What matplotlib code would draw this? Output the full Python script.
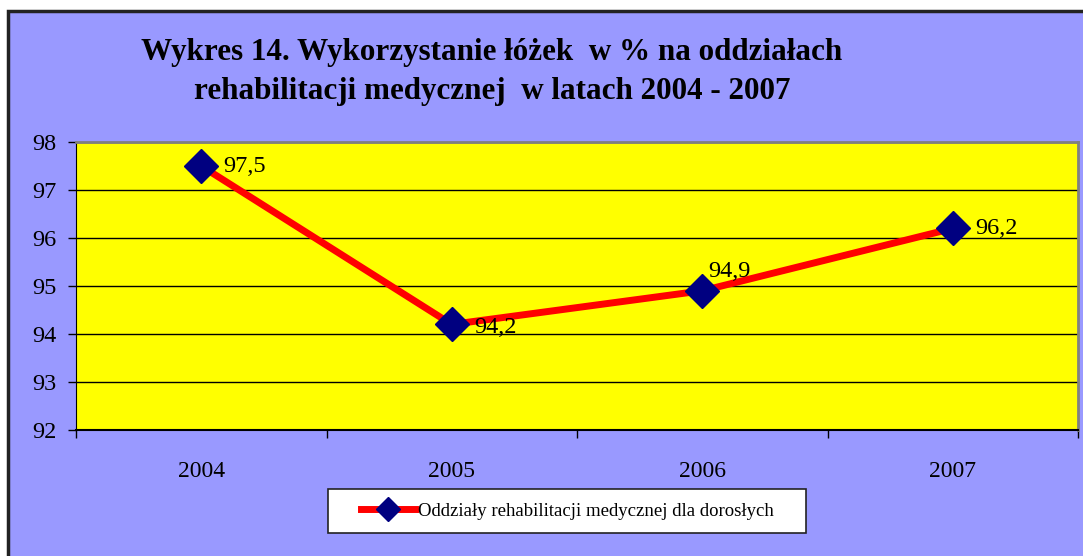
import matplotlib.pyplot as plt
from matplotlib.patches import Rectangle

# --- data ---
years = ["2004", "2005", "2006", "2007"]
usage = [97.5, 94.2, 94.9, 96.2]
labels = ["97,5", "94,2", "94,9", "96,2"]
label_offsets = [(16, 0), (16, -2), (4, 14), (16, 0)]
series_name = "Oddziały rehabilitacji medycznej dla dorosłych"
title = ("Wykres 14. Wykorzystanie łóżek  w % na oddziałach\n"
         "rehabilitacji medycznej  w latach 2004 - 2007")

plt.rcParams["font.family"] = ["Liberation Serif", "DejaVu Serif"]

W, H = 1083, 556
fig = plt.figure(figsize=(W / 100, H / 100), dpi=100)
fig.patch.set_facecolor("white")

# outer chart frame (periwinkle background)
fig.patches.append(Rectangle((7.5 / W, -0.1), 1.2, 1.1 - 10.5 / H,
                             transform=fig.transFigure, facecolor="#9999FF",
                             edgecolor="#222222", linewidth=2.5, zorder=-5))

fig.text(492 / W, 1 - 72 / H, title, ha="center", va="center",
         fontsize=22.4, fontweight="bold", linespacing=1.42)

ax = fig.add_axes([76 / W, 1 - 430 / H, 1002 / W, 288 / H])
ax.set_zorder(2)
ax.set_facecolor("#FFFF00")

x = list(range(len(years)))
ax.plot(x, usage, color="#FF0000", lw=5, marker="D", markersize=17,
        markerfacecolor="#000080", markeredgecolor="#000080",
        label=series_name, zorder=3)

for xi, yi, lab, off in zip(x, usage, labels, label_offsets):
    ax.annotate(lab, (xi, yi), xytext=off, textcoords="offset points",
                ha="left", va="center", fontsize=17.5, zorder=4)

ax.set_xlim(-0.5, len(years) - 0.5)
ax.set_ylim(92, 98)
ax.set_yticks(range(92, 99))
ax.yaxis.grid(True, color="black", lw=1)
ax.set_axisbelow(True)

ax.set_xticks(x)
ax.set_xticklabels(years)
ax.set_xticks([i - 0.5 for i in range(len(years) + 1)], minor=True)
ax.tick_params(axis="x", which="major", length=0, pad=22, labelsize=17)
ax.tick_params(axis="x", which="minor", length=6, width=1, color="black")
ax.tick_params(axis="y", length=6, width=1, pad=8, labelsize=17.5)

for side in ["top", "right"]:
    ax.spines[side].set_color("#808080")
    ax.spines[side].set_linewidth(2)
ax.spines["left"].set_color("black")
ax.spines["bottom"].set_color("black")
ax.spines["bottom"].set_linewidth(1.5)

# legend box
fig.patches.append(Rectangle((328 / W, 1 - 533 / H), 478 / W, 44 / H,
                             transform=fig.transFigure, facecolor="white",
                             edgecolor="#222222", linewidth=1.2, zorder=1))
leg = ax.legend(loc="center", bbox_to_anchor=(567 / W, 1 - 511 / H),
                bbox_transform=fig.transFigure, fontsize=13.5, frameon=False,
                handlelength=2.9, handletextpad=0.15, borderaxespad=0)
for h in leg.legend_handles:
    h.set_markersize(12)

fig.savefig("out.png", dpi=100)
